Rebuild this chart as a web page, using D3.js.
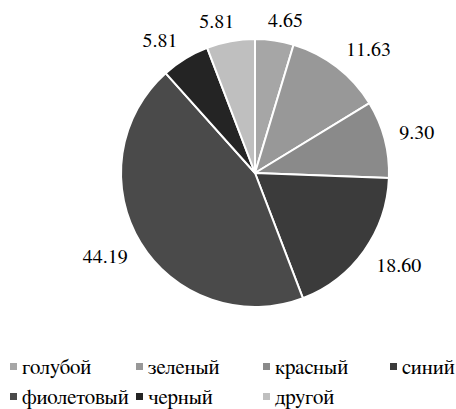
<!DOCTYPE html>
<html><head><meta charset="utf-8">
<script src="https://cdn.jsdelivr.net/npm/d3@7"></script>
<style>html,body{margin:0;padding:0;background:#fff;} svg text{font-family:"FreeSerif","Liberation Serif","Times New Roman",serif;}</style>
</head><body>
<script>
const categories = ["голубой","зеленый","красный","синий","фиолетовый","черный","другой"];
const values = [4.65, 11.63, 9.30, 18.60, 44.19, 5.81, 5.81];
const labels = ["4.65","11.63","9.30","18.60","44.19","5.81","5.81"];
const colors = ["#a6a6a6","#989898","#8a8a8a","#3b3b3b","#4a4a4a","#242424","#bfbfbf"];

const W = 456, H = 409;
const cx = 255, cy = 173, R = 134;

const svg = d3.select("body").append("svg").attr("width", W).attr("height", H);
const data = categories.map((c,i)=>({c, v: values[i], l: labels[i], col: colors[i]}));
const pie = d3.pie().value(d=>d.v).sort(null);
const arc = d3.arc().innerRadius(0).outerRadius(R);
const arcs = pie(data);

const g = svg.append("g").attr("transform", `translate(${cx},${cy})`);
g.selectAll("path").data(arcs).join("path")
  .attr("d", arc).attr("fill", d=>d.data.col)
  .attr("stroke", "#fff").attr("stroke-width", 2).attr("stroke-linejoin","round");

const fs = 20, gap = 15, lfs = 21;
const clamp = v => Math.max(-1, Math.min(1, v));
const lbl = g.selectAll("text").data(arcs).join("text")
  .style("font-size", fs + "px").attr("fill", "#000")
  .text(d=>d.data.l);
lbl.each(function(d){
  const w = this.getComputedTextLength();
  const hh = fs*0.27;
  const a = (d.startAngle + d.endAngle)/2;
  const s = Math.sin(a), c = Math.cos(a);
  const px = (R+gap)*s, py = -(R+gap)*c;
  const bx = px + clamp(3.5*s)*w/2, by = py - clamp(2*c)*hh;
  d3.select(this).attr("x", bx).attr("y", by + fs*0.33).attr("text-anchor","middle");
});

const colX = [10, 136, 263, 390];
const rowY = [374, 404];
const leg = svg.append("g");
data.forEach((d,i)=>{
  const x = colX[i%4], y = rowY[Math.floor(i/4)];
  leg.append("rect").attr("x", x).attr("y", y-11).attr("width", 7).attr("height", 7).attr("fill", d.col);
  leg.append("text").attr("x", x+12).attr("y", y).style("font-size", lfs + "px")
    .attr("fill","#000").text(d.c);
});
</script>
</body></html>
